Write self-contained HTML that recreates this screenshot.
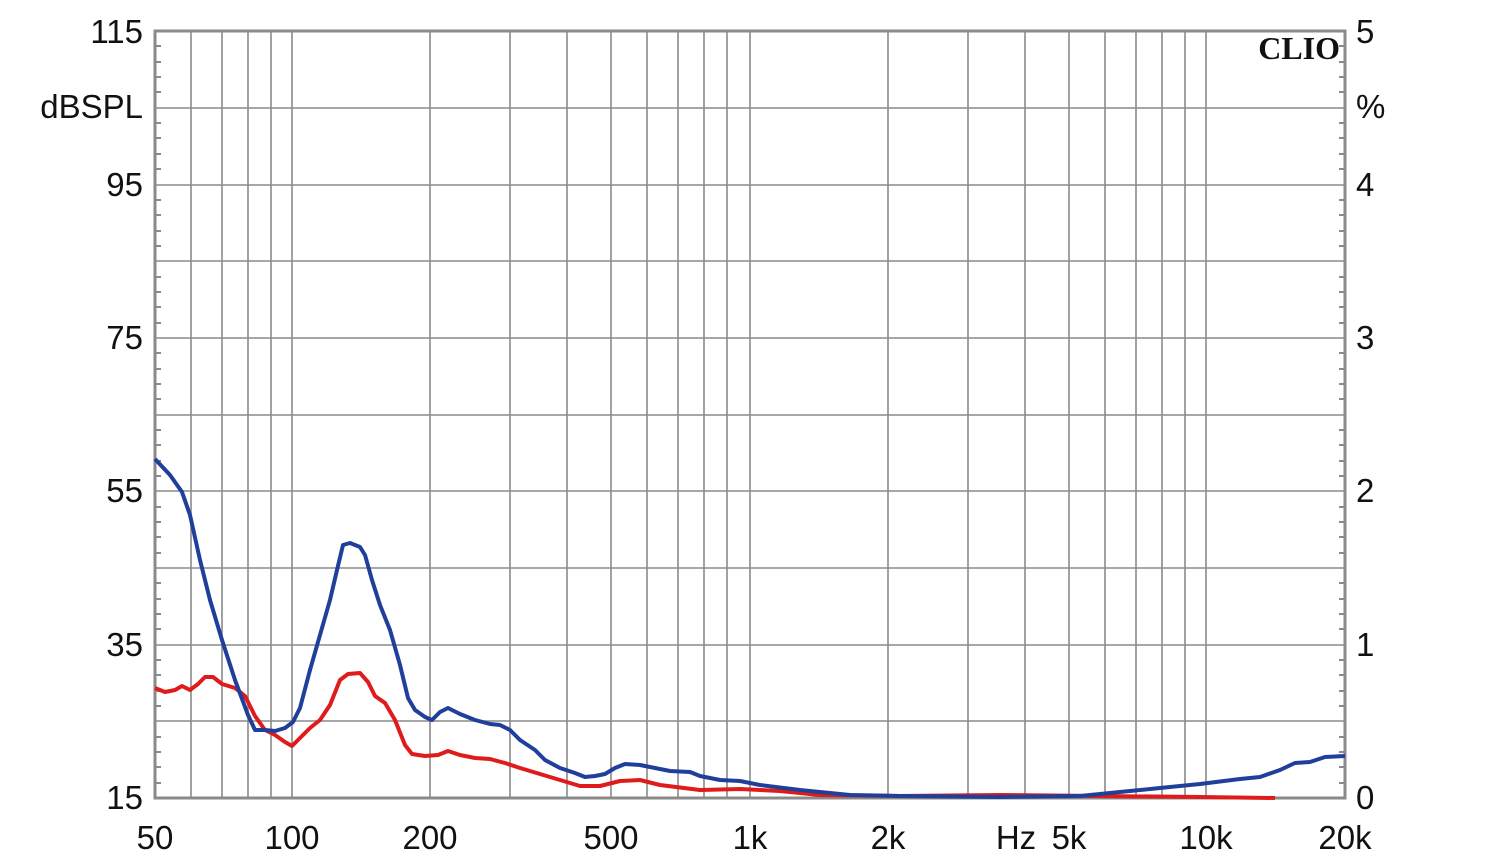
<!DOCTYPE html>
<html><head><meta charset="utf-8"><style>
html,body{margin:0;padding:0;background:#fff;}
svg{display:block;}
text{font-family:"Liberation Sans",Arial,sans-serif;font-size:33px;fill:#111;}
</style></head><body>
<svg width="1500" height="864" viewBox="0 0 1500 864" xmlns="http://www.w3.org/2000/svg">
<g stroke="#8a8a8a" stroke-width="1.6" fill="none">
<path d="M191 31V798M222 31V798M248 31V798M271 31V798M292 31V798M430 31V798M510 31V798M567 31V798M611 31V798M647 31V798M678 31V798M704 31V798M727 31V798M750 31V798M888 31V798M968 31V798M1025 31V798M1069 31V798M1105 31V798M1136 31V798M1162 31V798M1185 31V798M1206 31V798"/>
<path d="M155 108H1345M155 185H1345M155 261H1345M155 338H1345M155 415H1345M155 491H1345M155 568H1345M155 645H1345M155 721H1345"/>
</g>
<g stroke="#8a8a8a" stroke-width="2">
<path id="tk" d="M155 46h6M155 62h6M155 77h6M155 92h6M155 123h6M155 138h6M155 154h6M155 169h6M155 200h6M155 215h6M155 231h6M155 246h6M155 277h6M155 292h6M155 307h6M155 323h6M155 353h6M155 369h6M155 384h6M155 399h6M155 430h6M155 445h6M155 461h6M155 476h6M155 507h6M155 522h6M155 537h6M155 553h6M155 583h6M155 599h6M155 614h6M155 629h6M155 660h6M155 675h6M155 691h6M155 706h6M155 737h6M155 752h6M155 767h6M155 783h6"/>
<use href="#tk" transform="translate(1500 0) scale(-1 1)"/>
</g>
<rect x="155" y="31" width="1190" height="767" fill="none" stroke="#8a8a8a" stroke-width="3"/>
<polyline fill="none" stroke="#e01b1b" stroke-width="4" stroke-linejoin="round" points="155,688 165,692 175,690 182,686 190,690 198,684 205,677 213,677 222,684 235,688 245,696 255,716 265,730 275,735 285,742 292,746 300,738 310,728 320,720 330,705 340,680 348,674 360,673 368,682 375,696 385,703 395,720 405,745 412,754 425,756 438,755 448,751 460,755 475,758 490,759 505,763 520,768 540,774 560,780 580,786 600,786 620,781 640,780 660,785 700,790 740,789 780,791 820,795 900,796 1000,795 1100,796 1200,797 1275,798"/>
<polyline fill="none" stroke="#1f3f9a" stroke-width="4" stroke-linejoin="round" points="155,459 170,475 182,492 190,515 200,560 210,600 222,640 235,680 248,715 255,730 265,730 275,731 285,728 293,722 300,708 310,670 320,635 330,600 337,570 343,545 350,543 360,547 365,555 372,580 380,605 390,630 400,665 408,698 415,710 425,717 432,720 440,712 448,708 460,714 475,720 490,724 500,725 510,730 520,740 535,750 545,760 560,768 575,773 585,777 595,776 605,774 615,768 625,764 640,765 660,769 670,771 690,772 700,776 720,780 740,781 760,785 800,790 850,795 900,796 1000,797 1080,796 1120,792 1160,788 1200,784 1240,779 1260,777 1280,770 1295,763 1310,762 1325,757 1345,756"/>
<text x="1340" y="59" text-anchor="end" style="font-family:'Liberation Serif',serif;font-weight:bold;font-size:32px">CLIO</text>
<g text-anchor="end">
<text x="143" y="43">115</text><text x="143" y="118">dBSPL</text><text x="143" y="196">95</text><text x="143" y="349">75</text><text x="143" y="502">55</text><text x="143" y="656">35</text><text x="143" y="809">15</text>
</g>
<g>
<text x="1356" y="43">5</text><text x="1356" y="118">%</text><text x="1356" y="196">4</text><text x="1356" y="349">3</text><text x="1356" y="502">2</text><text x="1356" y="656">1</text><text x="1356" y="809">0</text>
</g>
<g text-anchor="middle">
<text x="155" y="849">50</text><text x="292" y="849">100</text><text x="430" y="849">200</text><text x="611" y="849">500</text><text x="750" y="849">1k</text><text x="888" y="849">2k</text><text x="1016" y="849">Hz</text><text x="1069" y="849">5k</text><text x="1206" y="849">10k</text><text x="1345" y="849">20k</text>
</g>
</svg>
</body></html>
